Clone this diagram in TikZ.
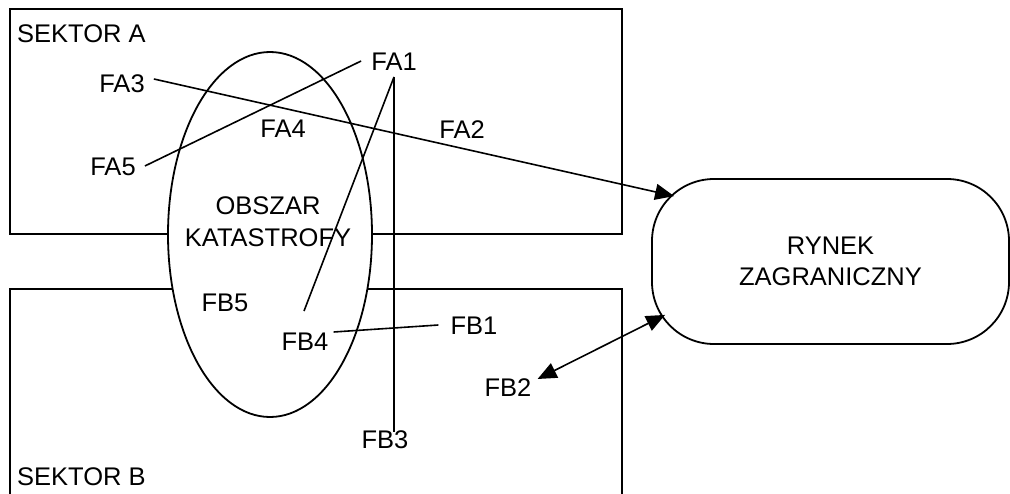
\documentclass[tikz,border=0pt]{standalone}
\usepackage{fontspec}
\setmainfont{Liberation Sans}
\usetikzlibrary{calc,shapes.geometric,arrows.meta}

\tikzset{
  frame/.style={draw=black, line width=1.8pt},
  lbl/.style={inner sep=0pt, anchor=center, font=\fontsize{25.5}{32}\selectfont},
  link/.style={draw=black, line width=1.6pt},
  arr/.style={link, -{Triangle[length=19pt,width=16pt]}},
  dblarr/.style={link, {Triangle[length=19pt,width=16pt]}-{Triangle[length=19pt,width=16pt]}},
}

\begin{document}
\begin{tikzpicture}[x=1pt, y=-1pt]
  \clip (0,0) rectangle (1010,493);
  \path[use as bounding box] (0,0) rectangle (1010,493);
  \fill[white] (0,0) rectangle (1010,493);

  % the two sectors
  \node[frame, minimum width=612pt, minimum height=225pt, inner sep=0pt] (sektorA) at (316,121.5) {};
  \node[frame, minimum width=612pt, minimum height=240pt, inner sep=0pt] (sektorB) at (316,409) {};
  \node[lbl, anchor=base west] (labA) at (17,42) {SEKTOR A};
  \node[lbl, anchor=base west] (labB) at (17,485) {SEKTOR B};

  % disaster area
  \node[frame, ellipse, fill=white, minimum width=204pt, minimum height=365pt, inner sep=0pt] (obszar) at (270,234.5) {};
  \node[lbl, align=center] (obszarTxt) at (268,221.5) {OBSZAR\\KATASTROFY};

  % foreign market
  \node[frame, fill=white, rounded corners=62pt, minimum width=357pt, minimum height=165pt,
        inner sep=0pt, align=center, font=\fontsize{25.5}{31}\selectfont] (rynek) at (830.5,261.5) {RYNEK\\ZAGRANICZNY};

  % firms
  \node[lbl] (FA1) at (394,62) {FA1};
  \node[lbl] (FA2) at (462,130) {FA2};
  \node[lbl] (FA3) at (122,84) {FA3};
  \node[lbl] (FA4) at (283,129) {FA4};
  \node[lbl] (FA5) at (113,167) {FA5};
  \node[lbl] (FB1) at (474,326) {FB1};
  \node[lbl] (FB2) at (508,388) {FB2};
  \node[lbl] (FB3) at (385,440) {FB3};
  \node[lbl] (FB4) at (305,342) {FB4};
  \node[lbl] (FB5) at (225,303) {FB5};

  % links between firms
  \draw[link] ($(FA5.east)+(9,-1)$) -- ($(FA1.west)+(-10,-1)$);
  \draw[link] ($(FA1.south)+(0,6)$) -- ($(FB4.north)+(-1,-22)$);
  \draw[link] ($(FA1.south)+(0,6)$) -- ($(FB3.north)+(9,1)$);
  \draw[link] ($(FB4.east)+(5,-10)$) -- ($(FB1.west)+(-12,-1)$);

  % links with the foreign market
  \draw[arr] ($(FA3.east)+(9,-5)$) -- ($(rynek.north west)+(23,18)$);
  \draw[dblarr] ($(FB2.east)+(6,-9)$) -- ($(rynek.south west)+(14,-30)$);
\end{tikzpicture}
\end{document}
